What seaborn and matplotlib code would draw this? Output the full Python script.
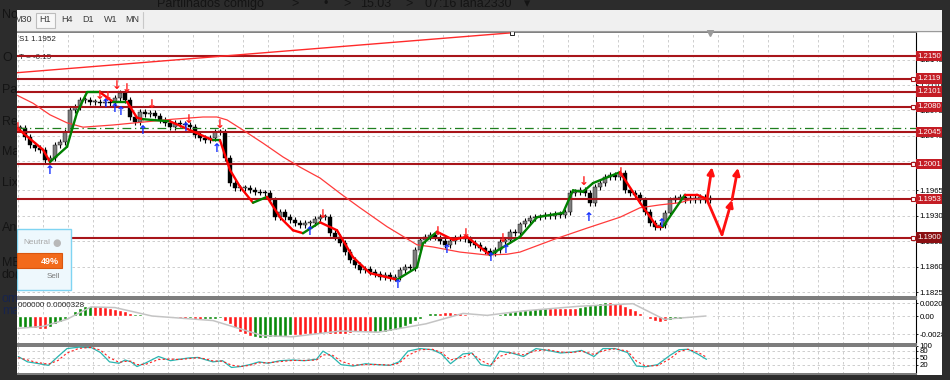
import numpy as np
import matplotlib
matplotlib.use('Agg')
import matplotlib.pyplot as plt
import seaborn as sns
from matplotlib.patches import Rectangle
from matplotlib.transforms import Bbox, TransformedBbox

sns.set_style('white')
plt.rcParams['font.family'] = ['Liberation Sans', 'DejaVu Sans']

# ---- price bars (close of each bar, oldest first) ----
closes = [1.2051, 1.2038, 1.2027, 1.2023, 1.2021, 1.2007, 1.2010, 1.2028, 1.2032, 1.2045,
          1.2076, 1.2080, 1.2089, 1.2089, 1.2087, 1.2087, 1.2085, 1.2087, 1.2085, 1.2092,
          1.2099, 1.2089, 1.2066, 1.2059, 1.2073, 1.2070, 1.2072, 1.2068, 1.2062, 1.2058,
          1.2052, 1.2058, 1.2056, 1.2055, 1.2052, 1.2041, 1.2037, 1.2034, 1.2037, 1.2045,
          1.2045, 1.2010, 1.1975, 1.1968, 1.1968, 1.1968, 1.1965, 1.1963, 1.1962, 1.1961,
          1.1952, 1.1928, 1.1935, 1.1928, 1.1924, 1.1920, 1.1917, 1.1920, 1.1920, 1.1925,
          1.1928, 1.1928, 1.1906, 1.1901, 1.1892, 1.1880, 1.1869, 1.1862, 1.1855, 1.1857,
          1.1853, 1.1850, 1.1846, 1.1848, 1.1844, 1.1846, 1.1855, 1.1860, 1.1858, 1.1883,
          1.1897, 1.1901, 1.1904, 1.1900, 1.1895, 1.1890, 1.1895, 1.1899, 1.1901, 1.1898,
          1.1893, 1.1890, 1.1885, 1.1882, 1.1879, 1.1883, 1.1894, 1.1897, 1.1908, 1.1906,
          1.1918, 1.1923, 1.1927, 1.1928, 1.1929, 1.1931, 1.1930, 1.1932, 1.1931, 1.1935,
          1.1961, 1.1963, 1.1965, 1.1961, 1.1948, 1.1970, 1.1975, 1.1983, 1.1986, 1.1983,
          1.1989, 1.1965, 1.1961, 1.1959, 1.1952, 1.1935, 1.1920, 1.1915, 1.1917, 1.1934,
          1.1952, 1.1954, 1.1956, 1.1952, 1.1954, 1.1952, 1.1956, 1.1952, 1.1954]

# slow moving average (thin red)
slow_x = [-0.6, 2.6, 6, 9.4, 12.6, 18.6, 24.6, 30.6, 36.6, 39.4, 41.4, 44.6, 48.6, 52.6, 56, 60, 64,
          68, 73.4, 79.4, 82.6, 88, 93.4, 97.4, 100, 106.6, 113.4, 120, 124, 128, 132, 134, 137.4]
slow_y = [1.2096, 1.2085, 1.2069, 1.2058, 1.2052, 1.2055, 1.2059, 1.2063, 1.2066, 1.2066, 1.2062,
          1.2048, 1.2030, 1.2011, 1.1997, 1.1982, 1.1961, 1.1941, 1.1915, 1.1890, 1.1887, 1.1880,
          1.1876, 1.1877, 1.1880, 1.1897, 1.1913, 1.1928, 1.1941, 1.1945, 1.1948, 1.1952, 1.1954]

# fast trend line (thick, u = green / d = red per segment)
fast_x = [-0.6, 4.6, 6, 9.4, 11.4, 13.4, 16, 18.6, 21.4, 23.4, 24.6, 30, 38.6, 40, 42, 44, 46.6,
          49.4, 52, 54.6, 56.6, 60, 63.4, 66.6, 70, 75.4, 79.4, 80.6, 83.4, 86.6, 89.4, 94, 97.4,
          100, 103.4, 108.6, 110.6, 112.6, 114.6, 120, 124, 127.4, 128.6, 133, 135.4, 137.4]
fast_y = [1.2051, 1.2021, 1.2004, 1.2025, 1.2072, 1.2100, 1.2100, 1.2087, 1.2087, 1.2065, 1.2063,
          1.2060, 1.2034, 1.2034, 1.1993, 1.1970, 1.1948, 1.1956, 1.1928, 1.1910, 1.1906, 1.1921,
          1.1910, 1.1873, 1.1851, 1.1842, 1.1859, 1.1892, 1.1908, 1.1897, 1.1901, 1.1876, 1.1890,
          1.1901, 1.1928, 1.1934, 1.1965, 1.1963, 1.1975, 1.1990, 1.1948, 1.1915, 1.1915, 1.1959,
          1.1959, 1.1953]
fast_trend = list('dd' 'uuuu' 'd' 'u' 'dd' 'u' 'd' 'u' 'ddd' 'u' 'ddd' 'u' 'dddd' 'uuu' 'ddd'
                  'uuuuuuuu' 'ddd' 'u' 'dd')

# signal arrows
up_x = [6, 17.2, 19, 20.2, 24.6, 33.2, 39.4, 58, 75.6, 85.4, 94.2, 97.2, 113.8, 128.4]
up_y = [1.1993, 1.2084, 1.2078, 1.2074, 1.2048, 1.2052, 1.2022, 1.1908, 1.1836, 1.1883, 1.1873,
        1.1883, 1.1927, 1.1919]
dn_x = [-0.4, 16, 17.6, 19.4, 21.4, 26.4, 33.8, 40, 60.6, 83.6, 89.2, 96.6, 112.8, 120.2]
dn_y = [1.2052, 1.2096, 1.2094, 1.2110, 1.2105, 1.2083, 1.2063, 1.2056, 1.1932, 1.1909, 1.1905,
        1.1899, 1.1977, 1.1990]

# horizontal levels
levels = [1.2150, 1.2119, 1.2101, 1.2080, 1.2045, 1.2001, 1.1953, 1.1900]
marked_levels = [1.2119, 1.2080, 1.2001, 1.1953, 1.1900]
dash_level = 1.2051
price_ticks = [1.1825, 1.1860, 1.1895, 1.1930, 1.1965, 1.2005, 1.2040, 1.2075, 1.2110, 1.2145]

# trend line and drawn forecast arrows
tl_x = [-0.6, 98.4]
tl_y = [1.2127, 1.2182]
fc1_x = [137.4, 138.4]
fc1_y = [1.1952, 1.1997]
fc2_x = [137.4, 140.4, 142.4, 143.6]
fc2_y = [1.1952, 1.1904, 1.1952, 1.1996]

# MACD histogram + signal
macd = [-0.0017, -0.0018, -0.0018, -0.0019, -0.0020, -0.0020, -0.0017, -0.0013, -0.0009, -0.0004,
        0.0002, 0.0008, 0.0012, 0.0015, 0.0016, 0.0016, 0.0015, 0.0014, 0.0012, 0.0011,
        0.0010, 0.0008, 0.0005, 0.0003, 0.0003, 0.0002, 0.0001, -0.0001, -0.0002, -0.0002,
        -0.0003, -0.0002, -0.0003, -0.0004, -0.0003, -0.0005, -0.0006, -0.0005, -0.0005, -0.0004,
        -0.0003, -0.0007, -0.0013, -0.0019, -0.0024, -0.0028, -0.0031, -0.0033, -0.0034, -0.0034,
        -0.0033, -0.0033, -0.0032, -0.0031, -0.0030, -0.0029, -0.0029, -0.0028, -0.0028, -0.0027,
        -0.0027, -0.0026, -0.0027, -0.0028, -0.0028, -0.0027, -0.0026, -0.0025, -0.0025, -0.0024,
        -0.0024, -0.0025, -0.0025, -0.0024, -0.0023, -0.0021, -0.0019, -0.0016, -0.0012, -0.0008,
        -0.0004, 0.0002, 0.0004, 0.0005, 0.0005, 0.0006, 0.0006, 0.0005, 0.0004, 0.0003,
        0.0001, 0.0000, -0.0001, 0.0000, 0.0001, 0.0002, 0.0003, 0.0005, 0.0006, 0.0008,
        0.0008, 0.0009, 0.0010, 0.0011, 0.0012, 0.0013, 0.0013, 0.0012, 0.0012, 0.0012,
        0.0012, 0.0012, 0.0014, 0.0016, 0.0017, 0.0019, 0.0020, 0.0021, 0.0021, 0.0020,
        0.0019, 0.0016, 0.0013, 0.0009, 0.0005, 0.0000, -0.0005, -0.0008, -0.0009, -0.0008,
        -0.0006, -0.0005, -0.0004, -0.0003, -0.0003, -0.0002, -0.0002, -0.0001, -0.0001]
macd_up = [1, 1, 1, 0, 0, 0, 1, 1, 1, 1,
           1, 1, 1, 1, 1, 0, 0, 0, 0, 0,
           0, 0, 0, 1, 1, 1, 0, 0, 0, 1,
           0, 1, 0, 0, 1, 0, 0, 1, 1, 1,
           1, 0, 0, 0, 0, 0, 0, 1, 1, 1,
           1, 1, 1, 1, 1, 0, 0, 0, 0, 0,
           0, 0, 0, 0, 0, 0, 0, 0, 0, 0,
           0, 1, 1, 1, 1, 1, 1, 1, 1, 1,
           1, 1, 1, 1, 0, 0, 0, 0, 0, 0,
           0, 0, 0, 1, 1, 1, 1, 1, 1, 1,
           1, 1, 1, 1, 1, 1, 0, 0, 0, 0,
           0, 0, 1, 1, 1, 1, 1, 1, 0, 0,
           0, 0, 0, 0, 0, 0, 0, 0, 0, 0,
           1, 1, 1, 1, 1, 1, 1, 1, 1]
sig_x = [-0.4, 4.6, 9.4, 14.2, 19, 26.4, 38.6, 48.4, 54.4, 64.2, 71.6, 81.2, 88.6, 93.4, 100.8,
         111.8, 122.6, 128.8, 137.2]
sig_y = [-0.0019, -0.0016, -0.0005, 0.0014, 0.0013, 0.0000, -0.0007, -0.0030, -0.0032, -0.0023,
         -0.0025, -0.0012, 0.0004, 0.0001, 0.0008, 0.0015, 0.0019, -0.0005, 0.0000]

# stochastic
st_x = [-0.35, 1.5, 3.3, 5.7, 7.6, 9.4, 11.8, 14.3, 16.1, 17.9, 19.8, 21.0, 22.2, 23.4, 25.2, 27.7,
        30.1, 31.9, 33.8, 35.6, 36.8, 38.6, 40.5, 42.3, 44.1, 45.9, 47.8, 49.6, 52.0, 54.5, 56.9,
        59.3, 60.6, 62.4, 64.2, 66.6, 69.1, 71.5, 74.0, 75.8, 77.6, 80.0, 82.5, 84.3, 86.1, 88.6,
        90.4, 92.2, 94.1, 95.9, 98.3, 100.7, 103.2, 105.6, 108.1, 110.5, 112.3, 114.8, 116.6,
        119.0, 121.5, 123.3, 125.1, 127.5, 130.0, 131.8, 133.6, 135.5, 137.3]
st_main = [55, 32, 26, 17, 55, 89, 95, 93, 72, 32, 26, 40, 32, 12, 28, 55, 37, 43, 49, 51,
           43, 32, 37, 8, 12, 20, 32, 26, 37, 40, 37, 43, 78, 55, 20, 14, 24, 20, 17, 32,
           78, 89, 84, 66, 24, 66, 70, 20, 14, 78, 70, 55, 89, 81, 70, 74, 81, 55, 89, 89,
           72, 14, 11, 20, 60, 84, 86, 66, 43]
st_sig = [50, 40, 30, 22, 38, 70, 90, 94, 82, 50, 30, 34, 35, 20, 22, 42, 44, 42, 46, 50,
          46, 36, 35, 18, 12, 17, 28, 28, 33, 38, 38, 40, 62, 62, 35, 18, 20, 21, 18, 26,
          60, 84, 86, 72, 40, 52, 68, 38, 18, 55, 72, 62, 80, 84, 74, 72, 78, 64, 80, 88,
          78, 35, 14, 16, 45, 76, 86, 74, 52]

# ---- layout (pixel helpers) ----
fig = plt.figure(figsize=(9.5, 3.8), dpi=100)
fig.patch.set_facecolor('white')


def fx(px):
    return px / 950


def fy(py):
    return 1 - py / 380


L, R = 17, 916
ax = fig.add_axes([fx(L), fy(297), (R - L) / 950, 265 / 380])
axm = fig.add_axes([fx(L), fy(344), (R - L) / 950, 45 / 380])
axs = fig.add_axes([fx(L), fy(374), (R - L) / 950, 28 / 380])

xmin, xmax = -0.6, 179.2
grid_x = np.arange(-0.4, xmax, 5)

for a in (ax, axm, axs):
    a.set_facecolor('white')
    a.set_xticks(grid_x)
    a.tick_params(axis='x', length=0, labelbottom=False)
    a.yaxis.tick_right()
    a.tick_params(axis='y', length=1.5, width=0.6, pad=1.2, labelsize=5.6, colors='black')
    a.grid(True, color='#c6c6c6', ls=(0, (3, 3)), lw=0.6)
    a.set_axisbelow(True)
    a.spines['left'].set_visible(False)
    a.spines['right'].set_color('black')
    a.spines['right'].set_linewidth(0.8)
    for s in ('top', 'bottom'):
        a.spines[s].set_color('#7a7a7a')
        a.spines[s].set_linewidth(1.4)

# ---- main price panel ----
idx = np.arange(len(closes))
c = np.array(closes)
o = np.r_[c[0], c[:-1]]
lo = np.minimum(o, c)
hi = np.maximum(o, c)
ax.vlines(idx, lo - 0.0004, hi + 0.0004, color='black', lw=0.8, zorder=3)
ax.bar(idx, np.maximum(hi - lo, 0.00012), bottom=lo, width=0.65,
       color=np.where(c >= o, '#7e7e7e', 'black'), edgecolor='black', linewidth=0.3, zorder=3)

for lv in levels:
    ax.axhline(lv, color='#a8151a', lw=1.5, zorder=4)
ax.axhline(dash_level, color='#1f7f1f', lw=0.9, ls=(0, (7, 3, 1, 3)), zorder=4)
ax.plot([178.6] * len(marked_levels), marked_levels, ls='none', marker='s', ms=2.6,
        mfc='white', mec='#a8151a', mew=0.8, zorder=5, clip_on=False)

sns.lineplot(x=slow_x, y=slow_y, ax=ax, color='#ff3b3b', lw=0.9, zorder=4)
sns.lineplot(x=tl_x, y=tl_y, ax=ax, color='#ff2a2a', lw=1.0, zorder=4)
ax.plot(tl_x[-1], tl_y[-1], marker='s', ms=2.6, mfc='white', mec='black', mew=0.6,
        zorder=6, clip_on=False)

for i, t in enumerate(fast_trend):
    ax.plot(fast_x[i:i + 2], fast_y[i:i + 2], color='#008000' if t == 'u' else '#ff0000',
            lw=1.7, solid_capstyle='round', zorder=5)

for x, y in zip(up_x, up_y):
    ax.text(x, y, '↑', color='#1530ff', fontsize=8.5, fontweight='bold', ha='center',
            va='center', zorder=6, family='DejaVu Sans')
for x, y in zip(dn_x, dn_y):
    ax.text(x, y, '↓', color='#ff1a1a', fontsize=8.5, fontweight='bold', ha='center',
            va='center', zorder=6, family='DejaVu Sans')

arr = dict(arrowstyle='-|>', color='#ff1010', lw=2, mutation_scale=10, shrinkA=0, shrinkB=0)
ax.annotate('', xy=(fc1_x[1], fc1_y[1]), xytext=(fc1_x[0], fc1_y[0]), arrowprops=arr, zorder=7)
ax.plot(fc2_x[:2], fc2_y[:2], color='#ff1010', lw=2, solid_capstyle='round', zorder=7)
for i in (1, 2):
    ax.annotate('', xy=(fc2_x[i + 1], fc2_y[i + 1]), xytext=(fc2_x[i], fc2_y[i]),
                arrowprops=arr, zorder=7)

ax.plot([138], [0.995], marker='v', color='#9a9a9a', ms=4, transform=ax.get_xaxis_transform(),
        clip_on=False, zorder=8)

ax.set_ylim(1.181814, 1.218305)
ax.set_yticks(price_ticks)
ax.set_yticklabels([f'{t:.4f}' for t in price_ticks])
for lv in levels:
    ax.text(1.0015, lv, f'{lv:.4f}', transform=ax.get_yaxis_transform(), ha='left', va='center',
            fontsize=5.6, color='white', zorder=10, clip_on=False,
            bbox=dict(boxstyle='square,pad=0.22', fc='#8a0f12' if lv == 1.1900 else '#c41d25',
                      ec='none'))
ax.text(0.002, 0.985, 'S1 1.1952', transform=ax.transAxes, fontsize=5.8, va='top')
ax.text(0.002, 0.905, 'T = -0.15', transform=ax.transAxes, fontsize=5.8, va='center')

# ---- MACD panel ----
axm.bar(idx, macd, width=0.7, color=np.where(np.array(macd_up) == 1, '#0a8a0a', '#ff1a1a'),
        zorder=3)
sns.lineplot(x=sig_x, y=sig_y, ax=axm, color='#c4c4c4', lw=1.1, zorder=4)
axm.set_ylim(-0.00431, 0.00262)
axm.set_yticks([-0.0028, 0.0, 0.0020])
axm.set_yticklabels(['-0.00280', '0.00', '0.00200'])
axm.text(0.001, 0.93, '000000 0.0000328', transform=axm.transAxes, fontsize=5.8, va='top')

# ---- stochastic panel ----
sns.lineplot(x=st_x, y=st_main, ax=axs, color='#2ab5b0', lw=0.9, zorder=4)
axs.plot(st_x, st_sig, color='#ff2020', lw=0.8, ls=(0, (2, 2)), zorder=5)
axs.set_ylim(-20, 100)
axs.set_yticks([20, 50, 80, 100])
axs.set_yticklabels(['20', '50', '80', '100'])

for a in (ax, axm, axs):
    a.set_xlim(xmin, xmax)
    a.set_xlabel('')
    a.set_ylabel('')

# ---- window chrome ----
fig.add_artist(Rectangle((fx(17), fy(30)), (942 - 17) / 950, 20 / 380, transform=fig.transFigure,
                         fc='#f0f0f0', ec='none', zorder=1))
fig.add_artist(Rectangle((fx(36), fy(28)), 19 / 950, 15 / 380, transform=fig.transFigure,
                         fc='#f8f8f8', ec='#bdbdbd', lw=0.8, zorder=2))
fig.add_artist(plt.Line2D([fx(143), fx(143)], [fy(12), fy(28)], transform=fig.transFigure,
                          color='#c8c8c8', lw=0.8, zorder=2))
fig.add_artist(plt.Line2D([fx(17), fx(942)], [fy(30.5), fy(30.5)], transform=fig.transFigure,
                          color='#9a9a9a', lw=1, zorder=2))
for lab, px in [('M30', 23), ('H1', 45), ('H4', 67), ('D1', 88), ('W1', 111), ('MN', 132)]:
    fig.text(fx(px), fy(20), lab, ha='center', va='center', fontsize=6.5, color='#3a3a3a',
             zorder=3)

# neutral / sell widget
fig.add_artist(Rectangle((fx(17), fy(290)), 54 / 950, 61 / 380, transform=fig.transFigure,
                         fc='#eef8fd', ec='#7fd4f2', lw=1, zorder=15))
fig.add_artist(Rectangle((fx(17), fy(268)), 45 / 950, 15 / 380, transform=fig.transFigure,
                         fc='#f26a1b', ec='#d9560f', lw=0.8, zorder=16))
fig.text(fx(37), fy(243), 'Neutral', ha='center', va='center', fontsize=6, color='#a8a8a8',
         zorder=17)
fig.text(fx(57), fy(243), '●', ha='center', va='center', fontsize=7, color='#b8b8b8',
         zorder=17, family='DejaVu Sans')
fig.text(fx(59), fy(261), '49%', ha='right', va='center', fontsize=6.5, color='white',
         fontweight='bold', zorder=17)
fig.text(fx(53), fy(277), 'Sell', ha='center', va='center', fontsize=5.8, color='#7a7a7a',
         zorder=17)

# dark frame
dark = '#2c2c2c'
for rect in [(0, fy(10), 1, 10 / 380), (0, 0, fx(17), 1), (fx(942), 0, 8 / 950, 1),
             (0, 0, 1, 5 / 380)]:
    fig.add_artist(Rectangle(rect[:2], rect[2], rect[3], transform=fig.transFigure,
                             fc=dark, ec='none', zorder=20))

for s, px in [('Partilhados comigo', 157), ('>', 291), ('•', 323), ('>', 343), ('15.03', 360),
              ('>', 405), ('07:16 lana2330', 425), ('▾', 524)]:
    fig.text(fx(px), fy(4), s, ha='left', va='center', fontsize=9, color='#141414', zorder=21,
             family=['Liberation Sans', 'DejaVu Sans'])

strip = TransformedBbox(Bbox([[0, 0], [fx(17), 1]]), fig.transFigure)
for s, py, col in [('No', 15, '#141414'), ('O', 58, '#141414'), ('Pa', 90, '#141414'),
                   ('Re', 122, '#141414'), ('Ma', 152, '#141414'), ('Lix', 183, '#141414'),
                   ('An', 228, '#141414'), ('MB (', 263, '#141414'), ('do(s', 275, '#141414'),
                   ('omp', 299, '#17244d'), ('ma', 311, '#17244d')]:
    t = fig.text(fx(2), fy(py), s, ha='left', va='center', fontsize=9, color=col, zorder=21)
    t.set_clip_box(strip)
    t.set_clip_on(True)

fig.savefig('out.png', dpi=100, facecolor=fig.get_facecolor())
